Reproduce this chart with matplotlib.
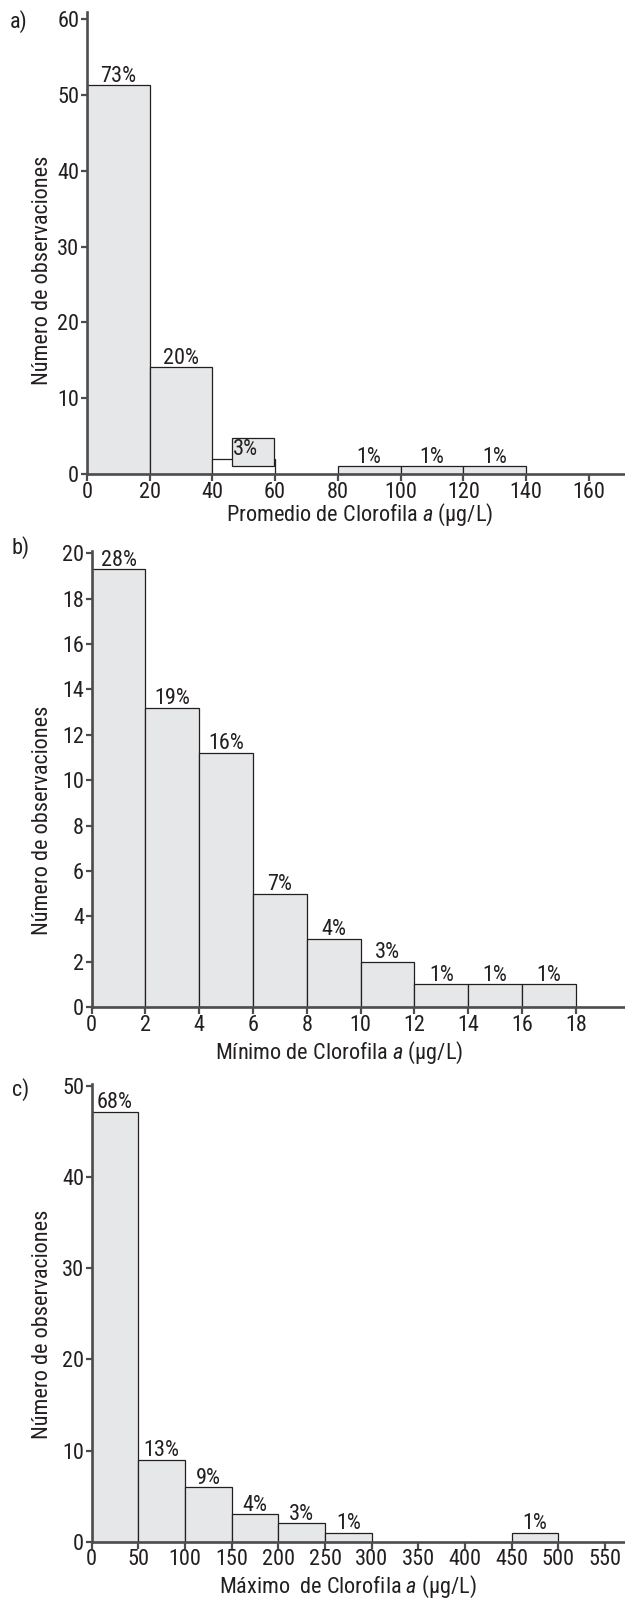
import matplotlib
matplotlib.use("Agg")
import matplotlib.pyplot as plt
import matplotlib.font_manager as fm
import numpy as np

# ---------------- data ----------------
a_edges = [0, 20, 40, 60, 80, 100, 120, 140]
a_counts = [51.3, 14.1, 2.0, 0, 1.0, 1.0, 1.0]
a_pct = ["73%", "20%", "", "", "1%", "1%", "1%"]
a_fill = ["#e6e7e8", "#e6e7e8", "#ffffff", "#e6e7e8", "#e6e7e8", "#e6e7e8", "#e6e7e8"]
# misplaced shaded box of the 40-60 class (as printed): x-range and y-range
a_box_x = [46.3, 59.5]
a_box_y = [1.1, 4.7]
a_box_pct = "3%"
a_xticks = [0, 20, 40, 60, 80, 100, 120, 140, 160]
a_yticks = [0, 10, 20, 30, 40, 50, 60]

b_edges = [0, 2, 4, 6, 8, 10, 12, 14, 16, 18]
b_counts = [19.3, 13.2, 11.2, 5.0, 3.0, 2.0, 1.0, 1.0, 1.0]
b_pct = ["28%", "19%", "16%", "7%", "4%", "3%", "1%", "1%", "1%"]
b_xticks = [0, 2, 4, 6, 8, 10, 12, 14, 16, 18]
b_yticks = [0, 2, 4, 6, 8, 10, 12, 14, 16, 18, 20]

c_edges = [0, 50, 100, 150, 200, 250, 300, 350, 400, 450, 500]
c_counts = [47.2, 9.0, 6.0, 3.0, 2.0, 1.0, 0, 0, 0, 1.0]
c_pct = ["68%", "13%", "9%", "4%", "3%", "1%", "", "", "", "1%"]
c_xticks = [0, 50, 100, 150, 200, 250, 300, 350, 400, 450, 500, 550]
c_yticks = [0, 10, 20, 30, 40, 50]

# ---------------- style ----------------
names = {f.name for f in fm.fontManager.ttflist}
FS = 16
if "Roboto Condensed" in names:
    FONT = "Roboto Condensed"
elif "Liberation Sans Narrow" in names:
    FONT = "Liberation Sans Narrow"
else:
    FONT = "DejaVu Sans"
    plt.rcParams["font.stretch"] = "condensed"
    FS = 15
plt.rcParams["font.family"] = [FONT, "DejaVu Sans"]
plt.rcParams["mathtext.fontset"] = "custom"
plt.rcParams["mathtext.rm"] = FONT
plt.rcParams["mathtext.it"] = FONT + ":italic"

TXT = "#231f20"
SPINE = "#4d4d4f"
FILL = "#e6e7e8"
EDGE = "#231f20"

W, H = 625, 1600
fig = plt.figure(figsize=(W / 100, H / 100), dpi=100)


def add_axes(x0, y0, ytop):
    return fig.add_axes([x0 / W, 1 - y0 / H, (W - x0) / W, (y0 - ytop) / H])


def style(ax, xlim, ylim, xt, yt):
    ax.set_xlim(*xlim)
    ax.set_ylim(*ylim)
    ax.set_xticks(xt)
    ax.set_yticks(yt)
    for s in ("top", "right"):
        ax.spines[s].set_visible(False)
    for s in ("left", "bottom"):
        ax.spines[s].set_color(SPINE)
        ax.spines[s].set_linewidth(1.9)
    ax.tick_params(axis="x", direction="out", length=5, width=1.6, color=SPINE,
                   labelsize=FS, labelcolor=TXT, pad=0.5)
    ax.tick_params(axis="y", direction="out", length=4, width=1.6, color=SPINE,
                   labelsize=FS, labelcolor=TXT, pad=1.5)
    ax.patch.set_alpha(0)


def draw(ax, edges, counts, pct, fills=None):
    widths = np.diff(edges)
    for i, (x, w, c) in enumerate(zip(edges[:-1], widths, counts)):
        if c <= 0:
            continue
        fc = fills[i] if fills else FILL
        ax.bar(x, c, width=w, align="edge", color=fc, edgecolor=EDGE,
               linewidth=0.9, zorder=2)
        if pct[i]:
            ax.annotate(pct[i], (x + w / 2, c), xytext=(0, 2.5),
                        textcoords="offset points", ha="center", va="baseline",
                        fontsize=FS, color=TXT, zorder=4)


# panel a
axA = add_axes(86.8, 474, 11.6)
style(axA, (0, 171.5), (0, 61), a_xticks, a_yticks)
draw(axA, a_edges, a_counts, a_pct, a_fill)
axA.bar(a_box_x[0], a_box_y[1] - a_box_y[0], width=a_box_x[1] - a_box_x[0],
        bottom=a_box_y[0], align="edge", color=FILL, edgecolor=EDGE,
        linewidth=0.9, zorder=3)
axA.annotate(a_box_pct, (a_box_x[0], a_box_y[1]), xytext=(0.5, -0.3),
             textcoords="offset points", ha="left", va="top",
             fontsize=FS, color=TXT, zorder=4)

# panel b
axB = add_axes(91.7, 1007, 551.1)
style(axB, (0, 19.83), (0, 20.1), b_xticks, b_yticks)
draw(axB, b_edges, b_counts, b_pct)

# panel c
axC = add_axes(91.7, 1541.7, 1084.2)
style(axC, (0, 571.4), (0, 50.2), c_xticks, c_yticks)
draw(axC, c_edges, c_counts, c_pct)


def ftext(x, y, s, **kw):
    fig.text(x / W, 1 - y / H, s, fontsize=FS, color=TXT, **kw)


ftext(10, 21.5, "a)", ha="left", va="center")
ftext(12, 548, "b)", ha="left", va="center")
ftext(12, 1090, "c)", ha="left", va="center")

ylab = "Número de observaciones"
ftext(43, 270, ylab, rotation=90, ha="center", va="center")
ftext(43, 820, ylab, rotation=90, ha="center", va="center")
ftext(43, 1324, ylab, rotation=90, ha="center", va="center")

ftext(360, 515, r"Promedio de Clorofila $a$ (µg/L)", ha="center", va="center")
ftext(339, 1053, r"Mínimo de Clorofila $a$ (µg/L)", ha="center", va="center")
ftext(348, 1587, r"Máximo  de Clorofila $a$ (µg/L)", ha="center", va="center")

fig.savefig("out.png", dpi=100)
